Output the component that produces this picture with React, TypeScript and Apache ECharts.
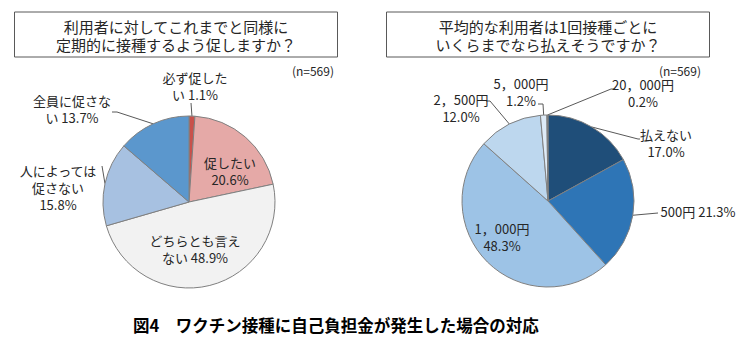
import React, { useEffect, useRef } from "react";
import * as echarts from "echarts";

// ---- Data ----
const leftTitle = "利用者に対してこれまでと同様に\n定期的に接種するよう促しますか？";
const rightTitle = "平均的な利用者は1回接種ごとに\nいくらまでなら払えそうですか？";
const sampleNote = "(n=569)";
const caption = "図4　ワクチン接種に自己負担金が発生した場合の対応";

const leftCategories = ["必ず促したい", "促したい", "どちらとも言えない", "人によっては促さない", "全員に促さない"];
const leftValues = [1.1, 20.6, 48.9, 15.8, 13.7];
const leftLabelText = ["必ず促した\nい 1.1%", "促したい\n20.6%", "どちらとも言え\nない 48.9%", "人によっては\n促さない\n15.8%", "全員に促さな\nい 13.7%"];

const rightCategories = ["払えない", "500円", "1，000円", "2，500円", "5，000円", "20，000円"];
const rightValues = [17.0, 21.3, 48.3, 12.0, 1.2, 0.2];
const rightLabelText = ["払えない\n17.0%", "500円 21.3%", "1，000円\n48.3%", "2，500円\n12.0%", "5，000円\n1.2%", "20，000円\n0.2%"];

// ---- Styles / layout ----
const leftColors = ["#c9514b", "#e5a9a7", "#f2f2f2", "#a7c1e1", "#5b97cd"];
const rightColors = ["#1f4e79", "#2e75b6", "#9dc3e6", "#bdd7ee", "#deebf7", "#7f7f7f"];
const FONT = "'Noto Sans CJK JP', 'Noto Sans', sans-serif";

// label centre positions and leader-line end/bend points (layout only)
type LP = { x: number; y: number; inside?: boolean; end?: number[]; bend?: number[] };
const leftLabelPos: LP[] = [
  { x: 195, y: 86, end: [191, 103] },
  { x: 230, y: 171, inside: true },
  { x: 195, y: 249, inside: true },
  { x: 58, y: 187, end: [102, 166] },
  { x: 72, y: 109, bend: [117, 112], end: [112, 112] },
];
const rightLabelPos: LP[] = [
  { x: 666, y: 143, bend: [638, 139], end: [640, 139] },
  { x: 698, y: 211, end: [658, 213] },
  { x: 502, y: 237, inside: true },
  { x: 461, y: 108, bend: [490, 101], end: [486, 101] },
  { x: 521, y: 92, bend: [543, 104], end: [538, 104] },
  { x: 643, y: 93, bend: [611, 89], end: [615, 89] },
];

function buildData(cats: string[], vals: number[], colors: string[], pos: LP[]) {
  return cats.map((name, i) => ({
    name,
    value: vals[i],
    itemStyle: { color: colors[i] },
    labelLine: { show: !pos[i].inside },
  }));
}

function makeLayout(pos: LP[]) {
  return (params: any) => {
    const p = pos[params.dataIndex];
    const res: any = { x: p.x, y: p.y, align: "center", verticalAlign: "middle" };
    if (!p.inside && params.labelLinePoints) {
      const anchor = params.labelLinePoints[0];
      const pts = [anchor];
      if (p.bend) pts.push(p.bend);
      if (p.end) pts.push(p.end);
      while (pts.length < 3) pts.push(pts[pts.length - 1]);
      res.labelLinePoints = pts;
    }
    return res;
  };
}

function pieSeries(cats: string[], vals: number[], colors: string[], pos: LP[], texts: string[], center: number[]) {
  return {
    type: "pie",
    center,
    radius: 86,
    startAngle: 90,
    clockwise: true,
    avoidLabelOverlap: false,
    data: buildData(cats, vals, colors, pos),
    itemStyle: { borderColor: "#808080", borderWidth: 1 },
    label: {
      show: true,
      position: "outside",
      formatter: (p: any) => texts[p.dataIndex],
      fontFamily: FONT,
      fontSize: 13,
      lineHeight: 17,
      color: "#262626",
      align: "center",
    },
    labelLine: {
      show: true,
      lineStyle: { color: "#595959", width: 1 },
      length: 10,
      length2: 10,
    },
    labelLayout: makeLayout(pos),
    emphasis: { disabled: true },
  };
}

export default function App() {
  const ref = useRef<HTMLDivElement>(null);
  useEffect(() => {
    if (!ref.current) return;
    const chart = echarts.init(ref.current, undefined, { renderer: "svg" });
    const titleBox = (x: number, w: number, text: string) => ({
      type: "group",
      children: [
        { type: "rect", shape: { x, y: 12, width: w, height: 45 }, style: { fill: "#fff", stroke: "#595959", lineWidth: 1 } },
        {
          type: "text",
          x: x + w / 2,
          y: 35,
          style: { text, fontFamily: FONT, fontSize: 15, lineHeight: 18, fill: "#262626", align: "center", verticalAlign: "middle" },
        },
      ],
    });
    chart.setOption({
      animation: false,
      backgroundColor: "#ffffff",
      graphic: [
        titleBox(14.5, 323, leftTitle),
        titleBox(386.5, 323, rightTitle),
        { type: "text", x: 334, y: 70, style: { text: sampleNote, fontFamily: FONT, fontSize: 12, fill: "#262626", align: "right", verticalAlign: "middle" } },
        { type: "text", x: 701, y: 70, style: { text: sampleNote, fontFamily: FONT, fontSize: 12, fill: "#262626", align: "right", verticalAlign: "middle" } },
        { type: "text", x: 133, y: 325, style: { text: caption, fontFamily: FONT, fontSize: 16.5, fontWeight: "bold", fill: "#000", align: "left", verticalAlign: "middle" } },
      ],
      series: [
        pieSeries(leftCategories, leftValues, leftColors, leftLabelPos, leftLabelText, [189, 202]),
        pieSeries(rightCategories, rightValues, rightColors, rightLabelPos, rightLabelText, [548, 201]),
      ],
    });
    return () => chart.dispose();
  }, []);
  return <div ref={ref} style={{ position: "fixed", left: 0, top: 0, width: 752, height: 356 }} />;
}
